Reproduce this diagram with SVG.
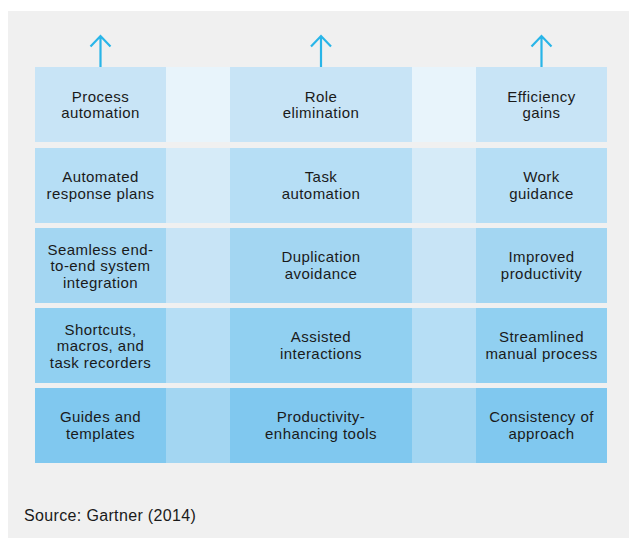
<svg xmlns="http://www.w3.org/2000/svg" width="629" height="538" viewBox="0 0 629 538">
<style>
.t{font-family:"Liberation Sans",Arial,sans-serif;font-size:15px;letter-spacing:0.45px;fill:#1a1a1a;text-anchor:middle}
.src{font-family:"Liberation Sans",Arial,sans-serif;font-size:16px;letter-spacing:0.35px;fill:#1a1a1a}
.arr{stroke:#29B5E8;stroke-width:2.2;fill:none}
.r1{fill:#C8E4F6}.g1{fill:#E8F4FB}
.r2{fill:#B6DEF5}.g2{fill:#D6EBF8}
.r3{fill:#A3D6F2}.g3{fill:#C8E4F6}
.r4{fill:#91D0F1}.g4{fill:#B6DEF5}
.r5{fill:#80C8EF}.g5{fill:#A3D6F2}
</style>
<rect x="0" y="0" width="629" height="538" fill="#ffffff"/>
<rect x="8" y="11" width="621" height="527" fill="#F0F0F0"/>
<g id="connectors">
<path class="arr" d="M100.5 67V36M90.5 46.5L100.5 36L110.5 46.5"/>
<path class="arr" d="M321 67V36M311 46.5L321 36L331 46.5"/>
<path class="arr" d="M541.5 67V36M531.5 46.5L541.5 36L551.5 46.5"/>
</g>
<g id="gaps">
<rect class="g1" x="166" y="67" width="64" height="75"/><rect class="g1" x="412" y="67" width="64" height="75"/>
<rect class="g2" x="166" y="148" width="64" height="75"/><rect class="g2" x="412" y="148" width="64" height="75"/>
<rect class="g3" x="166" y="228" width="64" height="75"/><rect class="g3" x="412" y="228" width="64" height="75"/>
<rect class="g4" x="166" y="308" width="64" height="75"/><rect class="g4" x="412" y="308" width="64" height="75"/>
<rect class="g5" x="166" y="388" width="64" height="75"/><rect class="g5" x="412" y="388" width="64" height="75"/>
</g>
<g id="n-process-automation"><rect class="r1" x="35" y="67" width="131" height="75"/><text class="t" x="100.5" y="101.8">Process</text><text class="t" x="100.5" y="118.4">automation</text></g>
<g id="n-role-elimination"><rect class="r1" x="230" y="67" width="182" height="75"/><text class="t" x="321" y="101.8">Role</text><text class="t" x="321" y="118.4">elimination</text></g>
<g id="n-efficiency-gains"><rect class="r1" x="476" y="67" width="131" height="75"/><text class="t" x="541.5" y="101.8">Efficiency</text><text class="t" x="541.5" y="118.4">gains</text></g>

<g id="n-automated-response"><rect class="r2" x="35" y="148" width="131" height="75"/><text class="t" x="100.5" y="182.4">Automated</text><text class="t" x="100.5" y="199">response plans</text></g>
<g id="n-task-automation"><rect class="r2" x="230" y="148" width="182" height="75"/><text class="t" x="321" y="182.4">Task</text><text class="t" x="321" y="199">automation</text></g>
<g id="n-work-guidance"><rect class="r2" x="476" y="148" width="131" height="75"/><text class="t" x="541.5" y="182.4">Work</text><text class="t" x="541.5" y="199">guidance</text></g>

<g id="n-seamless"><rect class="r3" x="35" y="228" width="131" height="75"/><text class="t" x="100.5" y="254.7">Seamless end-</text><text class="t" x="100.5" y="271.3">to-end system</text><text class="t" x="100.5" y="288">integration</text></g>
<g id="n-duplication"><rect class="r3" x="230" y="228" width="182" height="75"/><text class="t" x="321" y="262.4">Duplication</text><text class="t" x="321" y="279">avoidance</text></g>
<g id="n-improved"><rect class="r3" x="476" y="228" width="131" height="75"/><text class="t" x="541.5" y="262.4">Improved</text><text class="t" x="541.5" y="279">productivity</text></g>

<g id="n-shortcuts"><rect class="r4" x="35" y="308" width="131" height="75"/><text class="t" x="100.5" y="334.7">Shortcuts,</text><text class="t" x="100.5" y="351.3">macros, and</text><text class="t" x="100.5" y="368">task recorders</text></g>
<g id="n-assisted"><rect class="r4" x="230" y="308" width="182" height="75"/><text class="t" x="321" y="342.4">Assisted</text><text class="t" x="321" y="359">interactions</text></g>
<g id="n-streamlined"><rect class="r4" x="476" y="308" width="131" height="75"/><text class="t" x="541.5" y="342.4">Streamlined</text><text class="t" x="541.5" y="359">manual process</text></g>

<g id="n-guides"><rect class="r5" x="35" y="388" width="131" height="75"/><text class="t" x="100.5" y="422.4">Guides and</text><text class="t" x="100.5" y="439">templates</text></g>
<g id="n-productivity-tools"><rect class="r5" x="230" y="388" width="182" height="75"/><text class="t" x="321" y="422.4">Productivity-</text><text class="t" x="321" y="439">enhancing tools</text></g>
<g id="n-consistency"><rect class="r5" x="476" y="388" width="131" height="75"/><text class="t" x="541.5" y="422.4">Consistency of</text><text class="t" x="541.5" y="439">approach</text></g>

<text class="src" x="24" y="520.7">Source: Gartner (2014)</text>
</svg>
